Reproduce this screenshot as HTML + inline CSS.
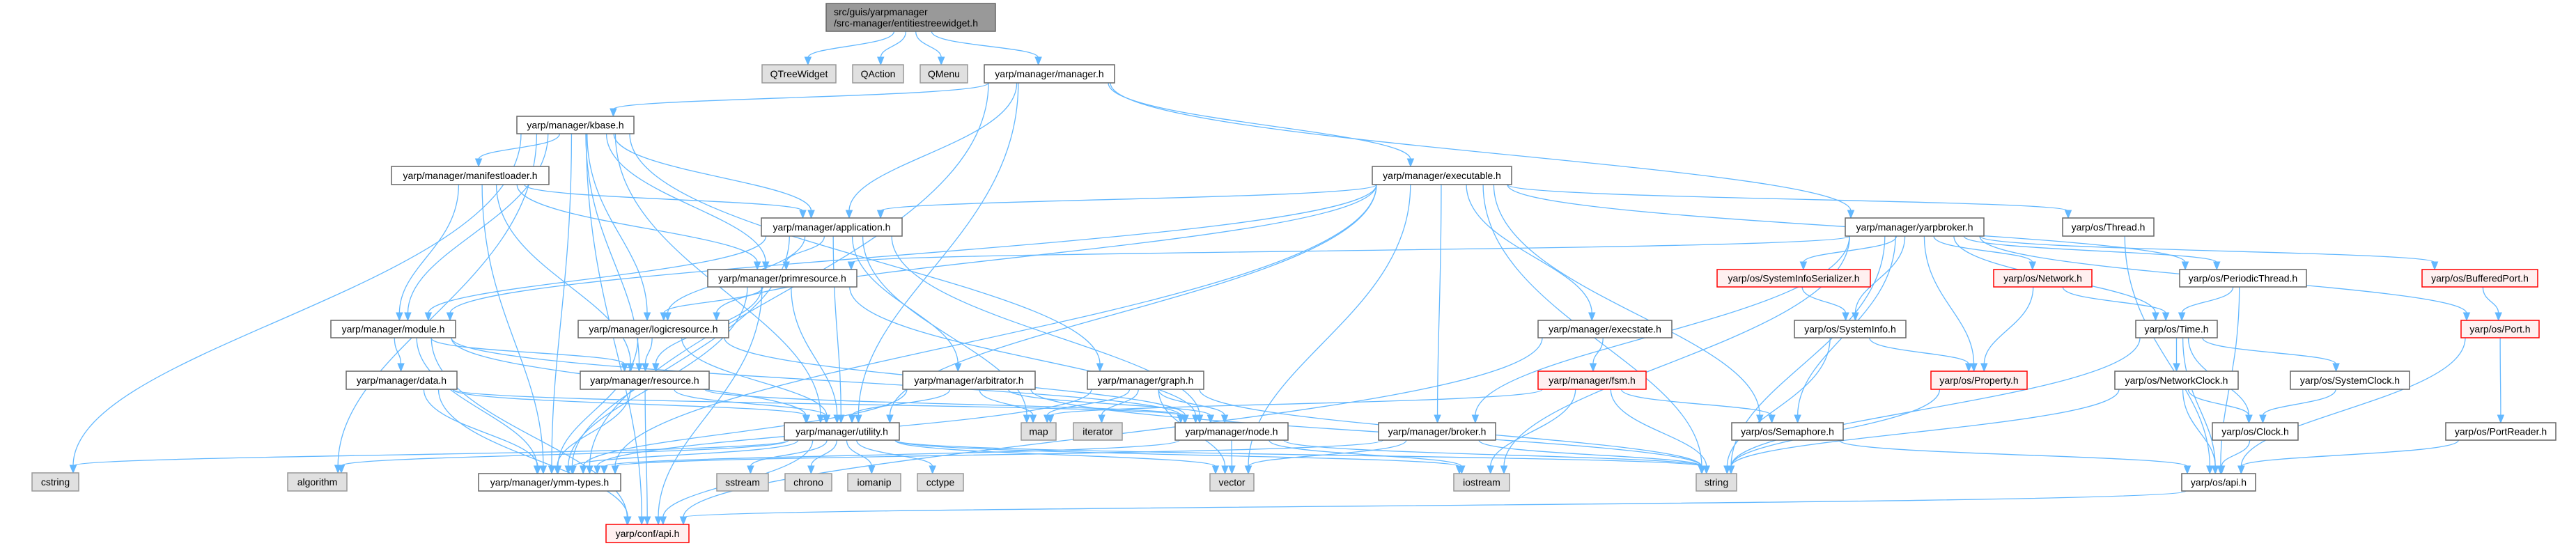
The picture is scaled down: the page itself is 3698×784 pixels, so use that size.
<!DOCTYPE html>
<html><head><meta charset="utf-8">
<style>
html,body{margin:0;padding:0;background:#fff;}
svg{display:block;}
text{font-family:"Liberation Sans",sans-serif;font-size:14px;fill:#000;}
</style></head>
<body>
<svg id="g" width="3698" height="784" viewBox="0 0 3698 784" xmlns="http://www.w3.org/2000/svg">
<g id="edges" fill="none" stroke="#63b8ff" stroke-width="1.3"></g>
<g id="arrows" fill="#63b8ff" stroke="#63b8ff"></g>
<g id="nodes">
<rect x="1186" y="5" width="243" height="40" fill="#999" stroke="#666" stroke-width="1.5"/>
<text x="1197" y="22">src/guis/yarpmanager</text>
<text x="1197" y="38">/src-manager/entitiestreewidget.h</text>
</g>
</svg>
<script>
var N={
QTW:["QTreeWidget",1094,93,1200,119,"g"],
QAC:["QAction",1224,93,1297,119,"g"],
QME:["QMenu",1321,93,1389,119,"g"],
MAN:["yarp/manager/manager.h",1413,93,1600,119,"w"],
KB:["yarp/manager/kbase.h",742,167,910,192,"w"],
ML:["yarp/manager/manifestloader.h",562,239,788,265,"w"],
EX:["yarp/manager/executable.h",1970,239,2170,265,"w"],
APP:["yarp/manager/application.h",1093,313,1295,339,"w"],
YB:["yarp/manager/yarpbroker.h",2649,313,2848,339,"w"],
TH:["yarp/os/Thread.h",2961,313,3092,339,"w"],
PR:["yarp/manager/primresource.h",1016,387,1230,412,"w"],
SIS:["yarp/os/SystemInfoSerializer.h",2465,387,2685,412,"r"],
NET:["yarp/os/Network.h",2862,387,3003,412,"r"],
PT:["yarp/os/PeriodicThread.h",3129,387,3311,412,"w"],
BP:["yarp/os/BufferedPort.h",3477,387,3643,412,"r"],
MOD:["yarp/manager/module.h",475,460,654,485,"w"],
LR:["yarp/manager/logicresource.h",830,460,1046,485,"w"],
ES:["yarp/manager/execstate.h",2208,460,2400,485,"w"],
SI:["yarp/os/SystemInfo.h",2576,460,2736,485,"w"],
TI:["yarp/os/Time.h",3066,460,3183,485,"w"],
PO:["yarp/os/Port.h",3533,460,3645,485,"r"],
DA:["yarp/manager/data.h",497,533,656,559,"w"],
RES:["yarp/manager/resource.h",833,533,1018,559,"w"],
ARB:["yarp/manager/arbitrator.h",1296,533,1486,559,"w"],
GR:["yarp/manager/graph.h",1561,533,1728,559,"w"],
FSM:["yarp/manager/fsm.h",2208,533,2363,559,"r"],
PROP:["yarp/os/Property.h",2772,533,2910,559,"r"],
NC:["yarp/os/NetworkClock.h",3036,533,3213,559,"w"],
SC:["yarp/os/SystemClock.h",3288,533,3459,559,"w"],
UT:["yarp/manager/utility.h",1126,607,1291,632,"w"],
MAP:["map",1466,607,1516,632,"g"],
IT:["iterator",1541,607,1611,632,"g"],
NODE:["yarp/manager/node.h",1687,607,1849,632,"w"],
BR:["yarp/manager/broker.h",1979,607,2147,632,"w"],
SEM:["yarp/os/Semaphore.h",2486,607,2646,632,"w"],
CL:["yarp/os/Clock.h",3176,607,3299,632,"w"],
PRD:["yarp/os/PortReader.h",3511,607,3669,632,"w"],
CS:["cstring",46,679,113,705,"g"],
ALG:["algorithm",413,679,498,705,"g"],
YMM:["yarp/manager/ymm-types.h",687,680,891,705,"w"],
SS:["sstream",1029,680,1103,705,"g"],
CH:["chrono",1127,680,1194,705,"g"],
IOM:["iomanip",1217,680,1293,705,"g"],
CC:["cctype",1317,680,1383,705,"g"],
VEC:["vector",1737,680,1800,705,"g"],
IOS:["iostream",2087,680,2167,705,"g"],
STR:["string",2435,680,2493,705,"g"],
OSAPI:["yarp/os/api.h",3132,680,3238,705,"w"],
CAPI:["yarp/conf/api.h",870,753,989,779,"r"],
TOP:["",1186,5,1429,45,"t"]
};
var E=[
["TOP","QTW"],["TOP","QAC"],["TOP","QME"],["TOP","MAN"],
["MAN","KB"],["MAN","EX"],["MAN","YB"],["MAN","YMM"],["MAN","UT"],["MAN","APP"],
["KB","ML"],["KB","APP"],["KB","PR"],["KB","LR"],["KB","RES"],["KB","MOD"],["KB","GR"],["KB","YMM"],["KB","UT"],["KB","CS"],["KB","ALG"],["KB","CAPI"],
["ML","APP"],["ML","MOD"],["ML","RES"],["ML","YMM"],["ML","PR"],
["EX","APP"],["EX","MOD"],["EX","BR"],["EX","ES"],["EX","TH"],["EX","PT"],["EX","SEM"],["EX","VEC"],["EX","STR"],["EX","UT"],["EX","YMM"],["EX","LR"],
["APP","PR"],["APP","LR"],["APP","MOD"],["APP","NODE"],["APP","UT"],["APP","YMM"],["APP","MAP"],["APP","ARB"],
["ARB","UT"],["ARB","MAP"],["ARB","NODE"],["ARB","STR"],["ARB","YMM"],
["GR","NODE"],["GR","MAP"],["GR","IT"],["GR","STR"],["GR","VEC"],["GR","YMM"],
["PR","LR"],["PR","RES"],["PR","NODE"],["PR","UT"],["PR","YMM"],["PR","CAPI"],
["LR","RES"],["LR","NODE"],["LR","UT"],["LR","YMM"],
["MOD","DA"],["MOD","NODE"],["MOD","RES"],["MOD","UT"],["MOD","YMM"],["MOD","CAPI"],
["DA","NODE"],["DA","UT"],["DA","YMM"],["DA","CAPI"],
["RES","NODE"],["RES","UT"],["RES","YMM"],["RES","CAPI"],
["NODE","YMM"],["NODE","VEC"],["NODE","IOS"],["NODE","STR"],
["UT","YMM"],["UT","SS"],["UT","CH"],["UT","IOM"],["UT","CC"],["UT","VEC"],["UT","STR"],["UT","IOS"],["UT","CS"],["UT","ALG"],["UT","CAPI"],
["BR","VEC"],["BR","STR"],["BR","YMM"],
["ES","FSM"],["ES","CAPI"],
["FSM","MAP"],["FSM","STR"],["FSM","IOS"],["FSM","SEM"],
["YB","BR"],["YB","PR"],["YB","SIS"],["YB","SI"],["YB","NET"],["YB","PROP"],["YB","SEM"],["YB","TI"],["YB","PT"],["YB","BP"],["YB","PO"],["YB","STR"],["YB","IOS"],
["SIS","SI"],["SI","PROP"],["SI","STR"],["NET","PROP"],["NET","TI"],
["PT","TI"],["PT","OSAPI"],["BP","PO"],["PO","PRD"],["PO","OSAPI"],
["TI","NC"],["TI","SC"],["TI","CL"],["TI","STR"],["TI","OSAPI"],
["NC","CL"],["NC","OSAPI"],["NC","STR"],["SC","CL"],["CL","OSAPI"],["PRD","OSAPI"],
["PROP","STR"],["SEM","OSAPI"],["TH","OSAPI"],["OSAPI","CAPI"]
];
var ns="http://www.w3.org/2000/svg";
var eg=document.getElementById("edges"),ag=document.getElementById("arrows"),ng=document.getElementById("nodes");
function el(t,a,p){var e=document.createElementNS(ns,t);for(var k in a)e.setAttribute(k,a[k]);p.appendChild(e);return e;}
function cl(v,a,b){return Math.max(a,Math.min(b,v));}
E.forEach(function(e){
 var s=N[e[0]],t=N[e[1]];
 var scx=(s[1]+s[3])/2,tcx=(t[1]+t[3])/2;
 var sx=cl(scx+(tcx-scx)*0.15,s[1]+6,s[3]-6),sy=s[4];
 var tx=cl(tcx+(scx-tcx)*0.08,t[1]+8,t[3]-8),ty=t[2];
 var dy=ty-sy;
 var ey=ty-10;
 var d="M"+sx+","+sy+" C"+sx+","+(sy+dy*0.45)+" "+tx+","+(ey-dy*0.35)+" "+tx+","+ey;
 el("path",{d:d},eg);
 el("polygon",{points:(tx-4.5)+","+(ty-11)+" "+(tx+4.5)+","+(ty-11)+" "+tx+","+ty},ag);
});
for(var k in N){var n=N[k];if(n[5]=="t")continue;
 var f={w:"#fff",g:"#e0e0e0",r:"#fff0f0"}[n[5]],st={w:"#666",g:"#999",r:"#f00"}[n[5]];
 el("rect",{x:n[1],y:n[2],width:n[3]-n[1],height:n[4]-n[2],fill:f,stroke:st,"stroke-width":1.5},ng);
 var t=el("text",{x:(n[1]+n[3])/2,y:n[2]+(n[4]-n[2])/2+5,"text-anchor":"middle"},ng);
 t.textContent=n[0];
}
</script>
</body></html>
